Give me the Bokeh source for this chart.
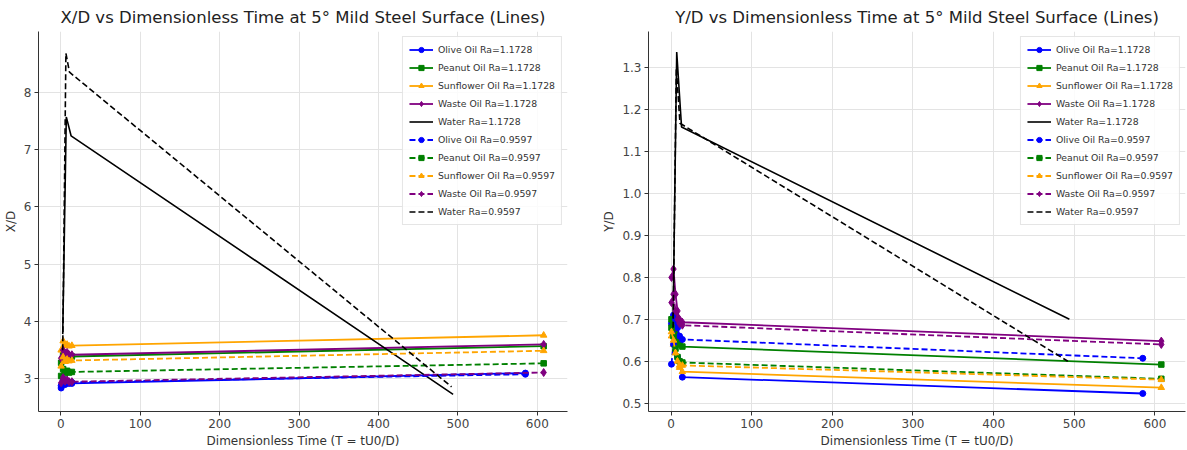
from bokeh.plotting import figure
from bokeh.layouts import row
from bokeh.models import Legend, LegendItem, Range1d, FixedTicker, NumeralTickFormatter
from bokeh.embed import file_html
from bokeh.resources import INLINE

# ---- data ----
SERIES_NAMES = ["Olive Oil", "Peanut Oil", "Sunflower Oil", "Waste Oil", "Water"]
RA_VALUES = ["1.1728", "0.9597"]

T_OIL_EARLY = [0.5, 3, 5.5, 8, 10.5, 14]
T_OLIVE_END = 585
T_OIL_END = 608
T_WATER_1172 = [2.5, 7, 13, 494]
T_WATER_0959 = [2.5, 6.5, 11, 492]

# X/D values: six early points + final point
XD_OLIVE_1172 = [2.84, 2.97, 2.90, 2.94, 2.92, 2.92, 3.10]
XD_PEANUT_1172 = [3.28, 3.42, 3.36, 3.40, 3.38, 3.39, 3.57]
XD_SUNFLOWER_1172 = [3.50, 3.66, 3.58, 3.60, 3.57, 3.58, 3.76]
XD_WASTE_1172 = [3.36, 3.50, 3.44, 3.46, 3.42, 3.42, 3.60]
XD_WATER_1172 = [3.78, 7.57, 7.24, 2.73]
XD_OLIVE_0959 = [2.88, 3.00, 2.94, 2.96, 2.94, 2.94, 3.08]
XD_PEANUT_0959 = [3.05, 3.17, 3.10, 3.14, 3.11, 3.12, 3.27]
XD_SUNFLOWER_0959 = [3.22, 3.38, 3.30, 3.34, 3.31, 3.32, 3.49]
XD_WASTE_0959 = [2.93, 3.02, 2.96, 2.98, 2.95, 2.95, 3.11]
XD_WATER_0959 = [3.50, 8.68, 8.35, 2.86]

# Y/D values
YD_OLIVE_1172 = [0.69, 0.71, 0.66, 0.61, 0.60, 0.562, 0.523]
YD_PEANUT_1172 = [0.70, 0.69, 0.67, 0.65, 0.64, 0.635, 0.592]
YD_SUNFLOWER_1172 = [0.66, 0.64, 0.62, 0.60, 0.585, 0.575, 0.537]
YD_WASTE_1172 = [0.80, 0.82, 0.76, 0.72, 0.70, 0.693, 0.648]
YD_WATER_1172 = [0.70, 1.338, 1.159, 0.70]
YD_OLIVE_0959 = [0.593, 0.64, 0.70, 0.68, 0.66, 0.652, 0.607]
YD_PEANUT_0959 = [0.68, 0.66, 0.63, 0.61, 0.60, 0.597, 0.558]
YD_SUNFLOWER_0959 = [0.67, 0.65, 0.62, 0.60, 0.59, 0.590, 0.556]
YD_WASTE_0959 = [0.74, 0.76, 0.72, 0.70, 0.69, 0.686, 0.640]
YD_WATER_0959 = [0.68, 1.30, 1.168, 0.60]

X_TICKS = [0, 100, 200, 300, 400, 500, 600]
XD_TICKS = [3, 4, 5, 6, 7, 8]
YD_TICKS = [0.5, 0.6, 0.7, 0.8, 0.9, 1.0, 1.1, 1.2, 1.3]

COLORS = {"Olive Oil": "blue", "Peanut Oil": "green", "Sunflower Oil": "orange",
          "Waste Oil": "purple", "Water": "black"}
MARKERS = {"Olive Oil": "circle", "Peanut Oil": "square", "Sunflower Oil": "triangle",
           "Waste Oil": "diamond"}
MSIZE = {"circle": 6, "square": 5.5, "triangle": 6.5, "diamond": 8}

XD = {
    ("Olive Oil", "1.1728"): XD_OLIVE_1172, ("Peanut Oil", "1.1728"): XD_PEANUT_1172,
    ("Sunflower Oil", "1.1728"): XD_SUNFLOWER_1172, ("Waste Oil", "1.1728"): XD_WASTE_1172,
    ("Water", "1.1728"): XD_WATER_1172,
    ("Olive Oil", "0.9597"): XD_OLIVE_0959, ("Peanut Oil", "0.9597"): XD_PEANUT_0959,
    ("Sunflower Oil", "0.9597"): XD_SUNFLOWER_0959, ("Waste Oil", "0.9597"): XD_WASTE_0959,
    ("Water", "0.9597"): XD_WATER_0959,
}
YD = {
    ("Olive Oil", "1.1728"): YD_OLIVE_1172, ("Peanut Oil", "1.1728"): YD_PEANUT_1172,
    ("Sunflower Oil", "1.1728"): YD_SUNFLOWER_1172, ("Waste Oil", "1.1728"): YD_WASTE_1172,
    ("Water", "1.1728"): YD_WATER_1172,
    ("Olive Oil", "0.9597"): YD_OLIVE_0959, ("Peanut Oil", "0.9597"): YD_PEANUT_0959,
    ("Sunflower Oil", "0.9597"): YD_SUNFLOWER_0959, ("Waste Oil", "0.9597"): YD_WASTE_0959,
    ("Water", "0.9597"): YD_WATER_0959,
}


def times_for(name, ra):
    if name == "Water":
        return T_WATER_1172 if ra == "1.1728" else T_WATER_0959
    end = T_OLIVE_END if name == "Olive Oil" else T_OIL_END
    return T_OIL_EARLY + [end]


FONT = "DejaVu Sans"


def make_fig(title, ylabel, data, y_range, yticks, width, mbl, mbr, yfmt=None):
    p = figure(width=width, height=450, x_range=Range1d(-28, 638), y_range=y_range,
               output_backend="svg", toolbar_location=None,
               min_border_left=mbl, min_border_right=mbr,
               min_border_top=30, min_border_bottom=35)
    p.title.text = title
    p.title.align = "center"
    p.title.text_font = FONT
    p.title.text_font_size = "16.5px"
    p.title.text_font_style = "normal"
    p.title.text_color = "#222222"
    p.outline_line_color = None
    p.background_fill_color = "white"
    p.border_fill_color = "white"
    for ax in (p.xaxis[0], p.yaxis[0]):
        ax.axis_label_text_font = FONT
        ax.axis_label_text_font_size = "12px"
        ax.axis_label_text_font_style = "normal"
        ax.axis_label_text_color = "#333333"
        ax.major_label_text_font = FONT
        ax.major_label_text_font_size = "12px"
        ax.major_label_text_color = "#444444"
        ax.minor_tick_line_color = None
        ax.major_tick_out = 4
        ax.major_tick_in = 0
        ax.axis_line_color = "#333333"
        ax.major_tick_line_color = "#333333"
        ax.major_label_standoff = 3
        ax.axis_label_standoff = 3
    p.xaxis.axis_label = "Dimensionless Time (T = tU0/D)"
    p.yaxis.axis_label = ylabel
    p.xaxis.ticker = FixedTicker(ticks=X_TICKS)
    p.yaxis.ticker = FixedTicker(ticks=yticks)
    if yfmt:
        p.yaxis.formatter = NumeralTickFormatter(format=yfmt)
    p.grid.grid_line_color = "#e3e3e3"
    p.grid.grid_line_width = 1

    items = []
    for ra in RA_VALUES:
        dash = "solid" if ra == "1.1728" else "6 3"
        for name in SERIES_NAMES:
            t = times_for(name, ra)
            v = data[(name, ra)]
            col = COLORS[name]
            lw = 1.6 if name == "Water" else 1.8
            r_line = p.line(t, v, line_color=col, line_width=lw, line_dash=dash)
            rends = [r_line]
            if name != "Water":
                m = MARKERS[name]
                r_sc = p.scatter(t, v, marker=m, size=MSIZE[m], fill_color=col,
                                 line_color=col)
                rends.append(r_sc)
            items.append(LegendItem(label=f"{name} Ra={ra}", renderers=rends))
    leg = Legend(items=items, location="top_right")
    leg.label_text_font = FONT
    leg.label_text_font_size = "9.3px"
    leg.label_text_color = "#333333"
    leg.glyph_width = 24
    leg.glyph_height = 13
    leg.label_height = 13
    leg.label_standoff = 5
    leg.spacing = 5
    leg.padding = 6
    leg.margin = 5
    leg.border_line_color = "#cccccc"
    leg.background_fill_alpha = 0.85
    p.add_layout(leg)
    return p


p1 = make_fig("X/D vs Dimensionless Time at 5° Mild Steel Surface (Lines)", "X/D", XD,
              Range1d(2.43, 9.06), XD_TICKS, 595, 34, 28)
p2 = make_fig("Y/D vs Dimensionless Time at 5° Mild Steel Surface (Lines)", "Y/D", YD,
              Range1d(0.48, 1.387), YD_TICKS, 592, 53, 2, yfmt="0.0")

layout = row(p1, p2)
open("out.html", "w").write(file_html(layout, INLINE))
